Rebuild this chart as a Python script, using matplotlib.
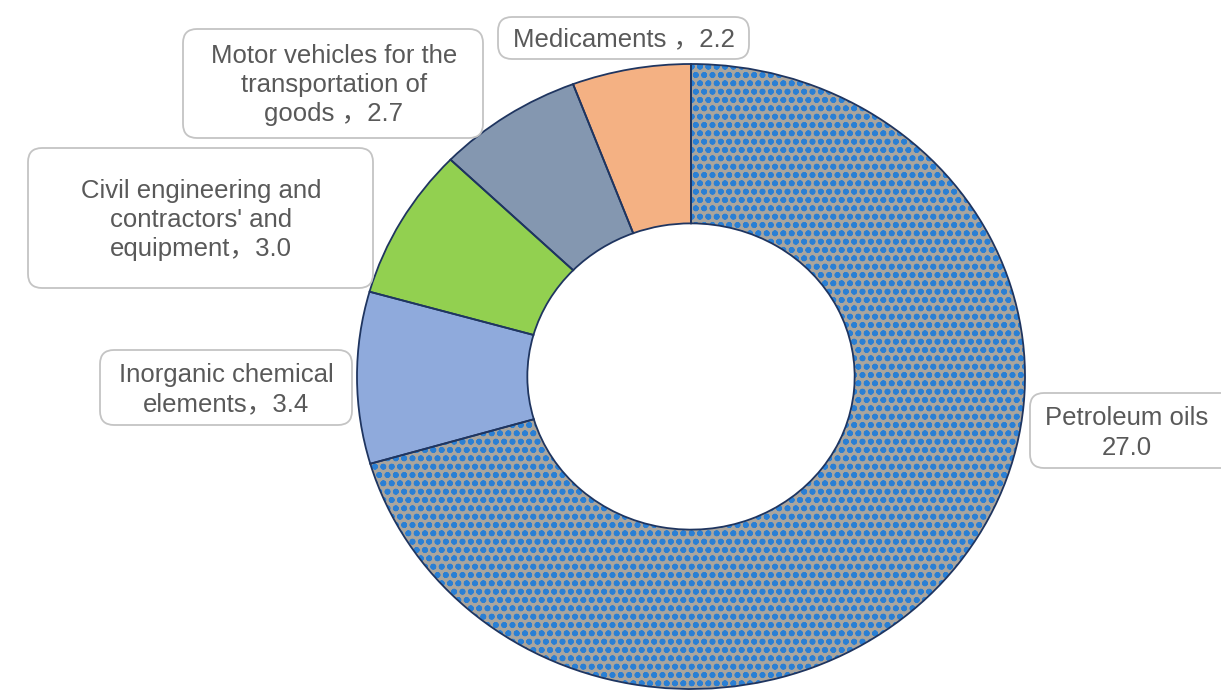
import matplotlib
matplotlib.use('Agg')
import matplotlib.pyplot as plt
from matplotlib.patches import FancyBboxPatch

# export categories, clockwise from the top
names = ["Petroleum oils", "Inorganic chemical\nelements",
         "Civil engineering and\ncontractors' and\nequipment",
         "Motor vehicles for the\ntransportation of\ngoods ", "Medicaments "]
values = [27.0, 3.4, 3.0, 2.7, 2.2]
seps = ["\n", "\uff0c", "\uff0c", "\uff0c", "\uff0c"]
colors = ["#a9a59e", "#8faadc", "#92d050", "#8497b0", "#f4b183"]

plt.rcParams['hatch.linewidth'] = 1.8

W, H = 12.21, 6.93
fig = plt.figure(figsize=(W, H), dpi=100)

# ring is a bit wider than tall
cx, cy = 691, 376.5
rx, ry = 334, 312.5
m = 1.1
ax = fig.add_axes([(cx - rx * m) / 1221, (693 - cy - ry * m) / 693,
                   2 * rx * m / 1221, 2 * ry * m / 693])

wedges, _ = ax.pie(values, colors=colors, startangle=90, counterclock=False,
                   wedgeprops=dict(width=0.51, linewidth=0))
wedges[0].set_edgecolor("#2a7fd4")
wedges[0].set_hatch("oo")

# outlines on top
ax.pie(values, startangle=90, counterclock=False,
       wedgeprops=dict(width=0.51, facecolor='none', edgecolor='#1f3560',
                       linewidth=1.3))
ax.set_aspect('auto')
ax.set_xlim(-m, m)
ax.set_ylim(-m, m)
ax.axis('off')

# label boxes: (left, top, right, bottom) in pixels, text centre
boxes = [(1030, 393, 1240, 468), (100, 350, 352, 425), (28, 148, 373, 288),
         (183, 29, 483, 138), (498, 17, 749, 59)]
centres = [(1127, 433), (226, 390), (201, 220), (334, 85), (624, 39)]

for i in range(len(values)):
    x0, y0, x1, y1 = boxes[i]
    p = FancyBboxPatch((x0 / 100, (693 - y1) / 100), (x1 - x0) / 100, (y1 - y0) / 100,
                       boxstyle="round,pad=0,rounding_size=0.14",
                       transform=fig.dpi_scale_trans, facecolor='white',
                       edgecolor='#c4c4c4', linewidth=1.3)
    fig.add_artist(p)
    tx, ty = centres[i]
    label = names[i] + seps[i] + "%.1f" % values[i]
    fig.text(tx / 1221, (693 - ty) / 693, label, ha='center', va='center',
             multialignment='center', fontsize=18.5, color='#595959',
             linespacing=1.27, family=['Liberation Sans', 'Noto Sans CJK SC'])

plt.savefig('out.png', dpi=100)
